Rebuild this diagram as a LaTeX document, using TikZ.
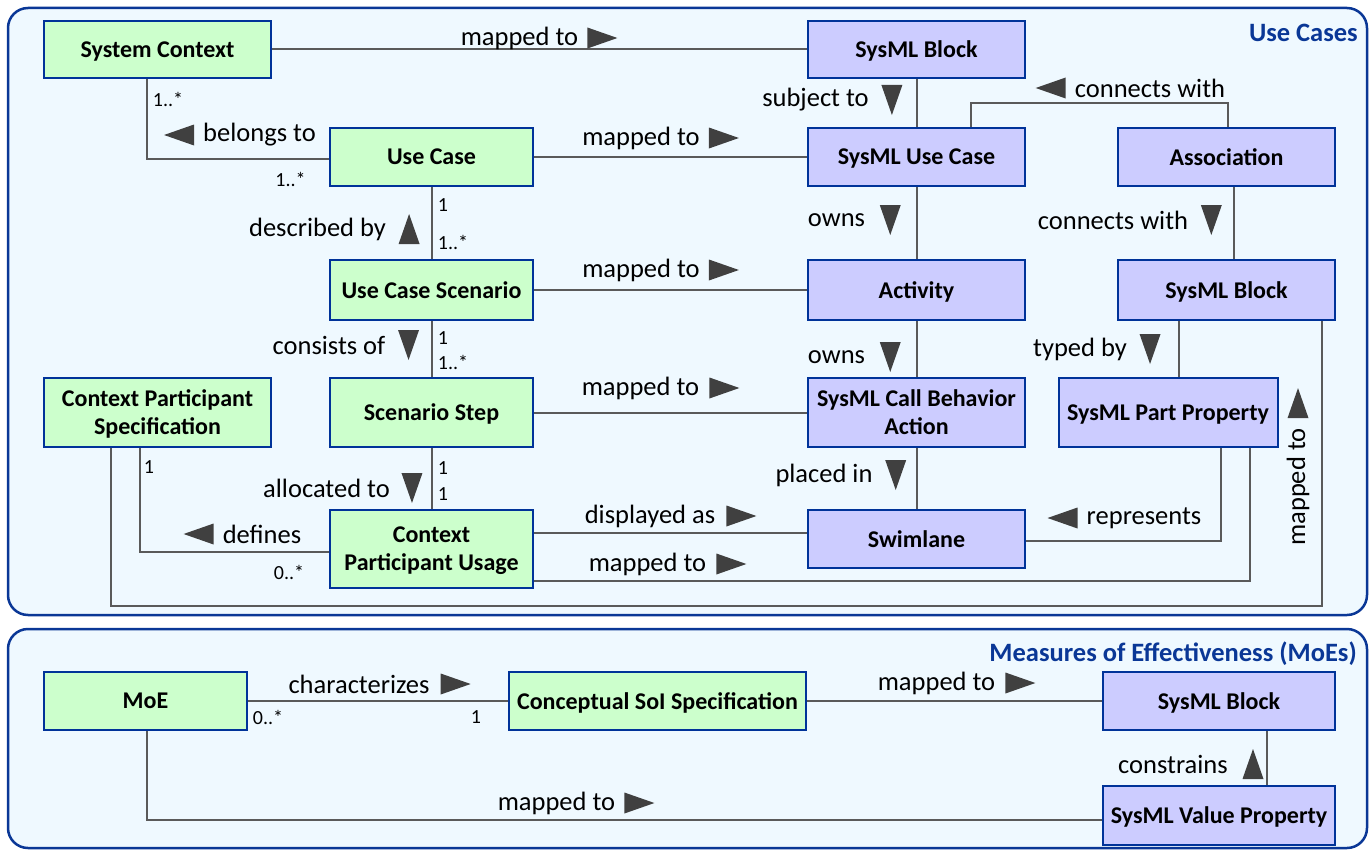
\documentclass[tikz,border=0pt]{standalone}
\usepackage{fontspec}
\setmainfont{Carlito}
\usetikzlibrary{positioning, calc}
\definecolor{ConceptGreen}{RGB}{204,255,204}
\definecolor{SysmlLila}{RGB}{204,204,255}
\definecolor{BoxBlue}{RGB}{0,51,153}
\definecolor{PanelBlue}{RGB}{10,55,150}
\definecolor{PanelFill}{RGB}{239,249,255}
\definecolor{LineGray}{RGB}{90,90,90}
\definecolor{ArrowGray}{RGB}{64,64,64}
\tikzset{%
  concept/.style ={rectangle, draw=BoxBlue, fill=ConceptGreen, line width=2pt,
                   align=center, inner sep=0pt, minimum width=203pt, minimum height=58pt,
                   text depth=0pt, font=\fontsize{24}{28}\selectfont\bfseries},
  sysml/.style   ={concept, fill=SysmlLila, minimum width=217pt},
  panel/.style   ={draw=PanelBlue, fill=PanelFill, rounded corners=20pt, line width=2.5pt},
  ptitle/.style  ={anchor=east, inner sep=0pt, text=PanelBlue,
                   font=\fontsize{26.5}{30}\selectfont\bfseries},
  lbl/.style     ={inner sep=0pt, font=\fontsize{26.5}{30}\selectfont},
  mult/.style    ={inner sep=0pt, font=\fontsize{20}{24}\selectfont},
  ln/.style      ={-, draw=LineGray, line width=2pt},
  tri/.pic       ={\fill[ArrowGray] (15,0) -- (-15,10.5) -- (-15,-10.5) -- cycle;}
}
\begin{document}
\begin{tikzpicture}[x=1pt, y=-1pt]
  \useasboundingbox (0,0) rectangle (1371,851);
  % panels
  \draw[panel] (8,8) rectangle (1367,615);
  \draw[panel] (8,629) rectangle (1367,848);
  \node[ptitle] (tUC) at (1358,33) {Use Cases};
  \node[ptitle] (tMoE) at (1357,654) {Measures of Effectiveness (MoEs)};
  % use case boxes
  \node[concept, minimum width=227pt, minimum height=57pt] (sc) at (157.5,49.5) {System Context};
  \node[sysml, minimum height=57pt] (blk1) at (916.5,49.5) {SysML Block};
  \node[concept] (uc) at (431.5,157) {Use Case};
  \node[sysml] (suc) at (916.5,157) {SysML Use Case};
  \node[sysml] (assoc) at (1226.5,157) {Association};
  \node[concept, minimum height=60pt] (ucs) at (431.5,290) {Use Case Scenario};
  \node[sysml, minimum height=60pt] (act) at (916.5,290) {Activity};
  \node[sysml, minimum height=60pt] (blk2) at (1226.5,290) {SysML Block};
  \node[concept, minimum width=227pt, minimum height=69pt] (cps) at (157.5,412.5) {Context Participant\\Specification};
  \node[concept, minimum height=69pt] (step) at (431.5,412.5) {Scenario Step};
  \node[sysml, minimum height=69pt] (cba) at (916.5,412.5) {SysML Call Behavior\\Action};
  \node[sysml, minimum width=219pt, minimum height=69pt] (ppr) at (1168,412.5) {SysML Part Property};
  \node[sysml] (swim) at (916.5,539) {Swimlane};
  \node[concept, minimum height=78pt] (cpu) at (431.5,549) {Context\\Participant Usage};
  % moe boxes
  \node[concept] (moe) at (145.5,701) {MoE};
  \node[concept, minimum width=297pt] (csoi) at (657.5,701) {Conceptual SoI Specification};
  \node[sysml, minimum width=232pt] (blk3) at (1219,701) {SysML Block};
  \node[sysml, minimum width=232pt, minimum height=59pt] (vprop) at (1219,815.5) {SysML Value Property};
  % connectors
  \draw[ln] (sc) -- (blk1);
  \draw[ln] ([xshift=-11pt]sc.south) |- ([yshift=-2pt]uc.west);
  \draw[ln] (uc) -- (suc);
  \draw[ln] (blk1) -- (suc);
  \draw[ln] ([xshift=54pt]suc.north) -- ++(0,-24) -| ([xshift=1.5pt]assoc.north);
  \draw[ln] (uc) -- (ucs);
  \draw[ln] (ucs) -- (act);
  \draw[ln] (suc) -- (act);
  \draw[ln] ([xshift=7pt]assoc.south) -- ([xshift=7pt]blk2.north);
  \draw[ln] (ucs) -- (step);
  \draw[ln] (step) -- (cba);
  \draw[ln] (act) -- (cba);
  \draw[ln] ([xshift=-48pt]blk2.south) -- ([xshift=-48pt]blk2.south |- ppr.north);
  \draw[ln] (step) -- (cpu);
  \draw[ln] ([xshift=-18pt]cps.south) |- ([yshift=-3pt]cpu.west);
  \draw[ln] (cba) -- (swim);
  \draw[ln] ([yshift=16pt]cpu.east) -- ([yshift=16pt]cpu.east -| swim.west);
  \draw[ln] ([xshift=53pt]ppr.south) |- ([yshift=-2pt]swim.east);
  \draw[ln] ([yshift=-32pt]cpu.east) -| ([xshift=81.5pt]ppr.south);
  \draw[ln] ([xshift=-47pt]cps.south) -- ++(0,158) -| ([xshift=95.5pt]blk2.south);
  \draw[ln] (moe) -- (csoi);
  \draw[ln] (csoi) -- (blk3);
  \draw[ln] ([xshift=48pt]vprop.north) -- ([xshift=48pt]blk3.south);
  \draw[ln] ([xshift=1.5pt]moe.south) |- ([yshift=-4.5pt]vprop.west);
  % association labels
  \node[lbl] (l1) at (519.5,38) {mapped to};
  \pic at ($(l1.east)+(24,0)$) {tri};
  \node[lbl] (l2) at (259.5,135) {belongs to};
  \pic[rotate=180] at ($(l2.west)-(24,0)$) {tri};
  \node[lbl] (l3) at (641,138) {mapped to};
  \pic at ($(l3.east)+(24,0)$) {tri};
  \node[lbl] (l4) at (815.5,100) {subject to};
  \pic[rotate=-90] at ($(l4.east)+(23,0)$) {tri};
  \node[lbl] (l5) at (1150,88) {connects with};
  \pic[rotate=180] at ($(l5.west)-(24,0)$) {tri};
  \node[lbl] (l6) at (317.5,229) {described by};
  \pic[rotate=90] at ($(l6.east)+(23,0)$) {tri};
  \node[lbl] (l7) at (836.5,220) {owns};
  \pic[rotate=-90] at ($(l7.east)+(25,0)$) {tri};
  \node[lbl] (l8) at (1113,220) {connects with};
  \pic[rotate=-90] at ($(l8.east)+(23,0)$) {tri};
  \node[lbl] (l9) at (641,270) {mapped to};
  \pic at ($(l9.east)+(24,0)$) {tri};
  \node[lbl] (l10) at (329,345) {consists of};
  \pic[rotate=-90] at ($(l10.east)+(23,0)$) {tri};
  \node[lbl] (l11) at (836.5,357) {owns};
  \pic[rotate=-90] at ($(l11.east)+(25,0)$) {tri};
  \node[lbl] (l12) at (1080,349) {typed by};
  \pic[rotate=-90] at ($(l12.east)+(23,0)$) {tri};
  \node[lbl] (l13) at (640.5,388) {mapped to};
  \pic at ($(l13.east)+(25,0)$) {tri};
  \node[lbl] (l14) at (326.5,488) {allocated to};
  \pic[rotate=-90] at ($(l14.east)+(22,0)$) {tri};
  \node[lbl] (l15) at (824,475) {placed in};
  \pic[rotate=-90] at ($(l15.east)+(23,0)$) {tri};
  \node[lbl] (l16) at (262,534) {defines};
  \pic[rotate=180] at ($(l16.west)-(24,0)$) {tri};
  \node[lbl] (l17) at (650,516) {displayed as};
  \pic at ($(l17.east)+(26,0)$) {tri};
  \node[lbl] (l18) at (1144,518) {represents};
  \pic[rotate=180] at ($(l18.west)-(24,0)$) {tri};
  \node[lbl] (l19) at (647.5,564) {mapped to};
  \pic at ($(l19.east)+(25,0)$) {tri};
  \node[lbl, rotate=90] (l20) at (1298,487) {mapped to};
  \pic[rotate=90] at ($(l20.east)+(0,-25)$) {tri};
  \node[lbl] (l21) at (359,684) {characterizes};
  \pic at ($(l21.east)+(26,0)$) {tri};
  \node[lbl] (l22) at (936.5,683) {mapped to};
  \pic at ($(l22.east)+(25,0)$) {tri};
  \node[lbl] (l23) at (1173,764) {constrains};
  \pic[rotate=90] at ($(l23.east)+(25,0)$) {tri};
  \node[lbl] (l24) at (556.5,803) {mapped to};
  \pic at ($(l24.east)+(24,0)$) {tri};
  % multiplicities
  \node[mult] (m1) at (168,99) {1..*};
  \node[mult] (m2) at (290.5,179) {1..*};
  \node[mult] (m3) at (443,205) {1};
  \node[mult] (m4) at (453,242) {1..*};
  \node[mult] (m5) at (443,338) {1};
  \node[mult] (m6) at (453,362) {1..*};
  \node[mult] (m7) at (149,467) {1};
  \node[mult] (m8) at (443,468) {1};
  \node[mult] (m9) at (443,494) {1};
  \node[mult] (m10) at (289,572) {0..*};
  \node[mult] (m11) at (268,717) {0..*};
  \node[mult] (m12) at (476,717) {1};
\end{tikzpicture}
\end{document}
